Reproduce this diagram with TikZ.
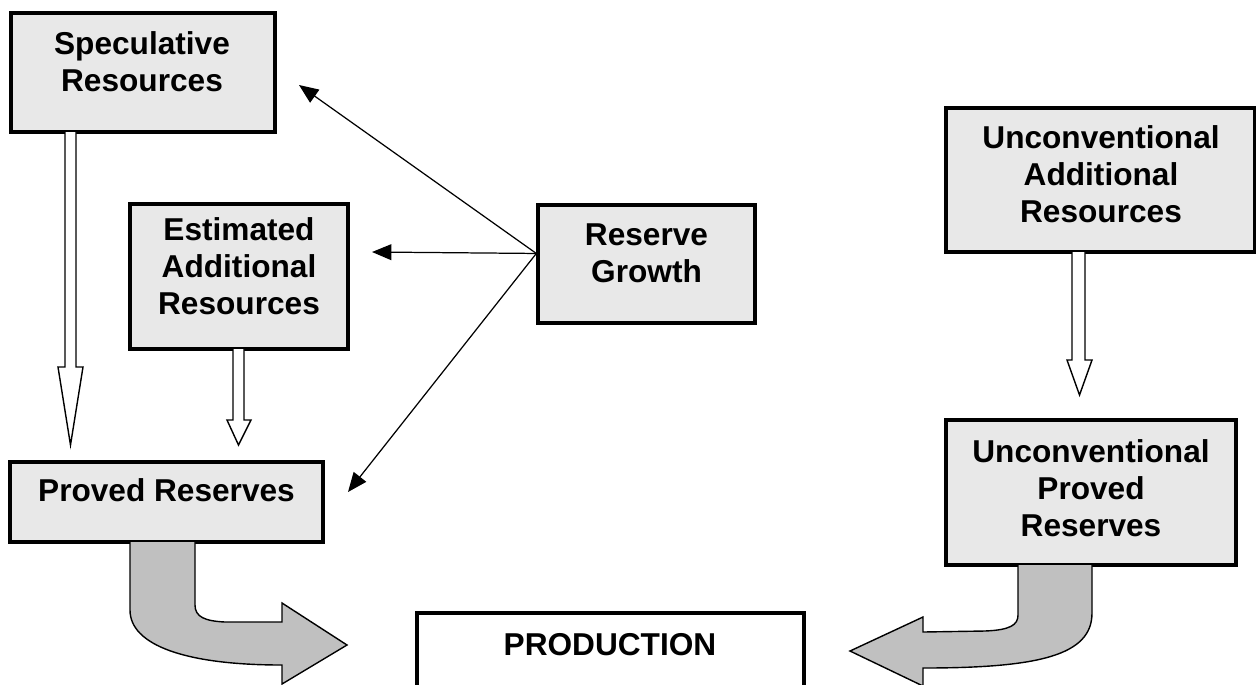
\documentclass[tikz,border=0pt]{standalone}
\usepackage{fontspec}
\setmainfont{Liberation Sans}
\usetikzlibrary{arrows.meta,fit}

\definecolor{boxgray}{HTML}{E8E8E8}
\definecolor{flowgray}{HTML}{C0C0C0}

\tikzset{
    box/.style={draw,fill=boxgray,line width=1.9pt,inner sep=0pt},
    lbl/.style={align=center,inner sep=0pt,font=\bfseries\fontsize{18}{21}\selectfont},
    hollow/.style={draw,fill=white,line width=0.8pt,line join=miter},
    flow/.style={draw,fill=flowgray,line width=0.8pt},
    thinarrow/.style={line width=0.7pt,-{Triangle[length=11pt,width=9pt]}}
}

\begin{document}
\begin{tikzpicture}[x=0.02cm,y=-0.02cm]
            \useasboundingbox (0,0) rectangle (1256,684);
            \clip (0,0) rectangle (1256,684);

            % boxes
            \node[box,fit={(11,13) (275,132)}] (spec) {};
            \node[box,fit={(130,204) (348,349)}] (est) {};
            \node[box,fit={(538,205) (755,323)}] (rg) {};
            \node[box,fit={(10,462) (323,542)}] (proved) {};
            \node[box,fit={(946,108) (1255,252)}] (uadd) {};
            \node[box,fit={(946,420) (1236,565)}] (uproved) {};
            \node[box,fill=white,fit={(417,613) (804,720)}] (prod) {};

            \node[lbl] (specTxt) at (142,61.5) {Speculative\\Resources};
            \node[lbl] (estTxt) at (239,266.5) {Estimated\\Additional\\Resources};
            \node[lbl] (rgTxt) at (646.5,253.5) {Reserve\\Growth};
            \node[lbl] (provedTxt) at (166.5,490) {Proved Reserves};
            \node[lbl] (uaddTxt) at (1101,174) {Unconventional\\Additional\\Resources};
            \node[lbl] (uprovedTxt) at (1091,488) {Unconventional\\Proved\\Reserves};
            \node[lbl] (prodTxt) at (610,645) {PRODUCTION};

            % hollow arrows
            \draw[hollow] (65,132) -- (65,367) -- (58,367) -- (70.5,445) -- (83,367) -- (76,367) -- (76,132);
            \draw[hollow] (233,349) -- (233,420) -- (227,420) -- (238.5,445) -- (251,420) -- (244,420) -- (244,349);
            \draw[hollow] (1072,252) -- (1072,360) -- (1067,360) -- (1079.5,395) -- (1092,360) -- (1085,360) -- (1085,252);

            % reserve growth arrows
            \coordinate (specIn) at (299,85);
            \coordinate (estIn) at (372,252);
            \coordinate (provedIn) at (348,492);
            \draw[thinarrow] ([yshift=6pt]rg.west) -- (specIn);
            \draw[thinarrow] ([yshift=6pt]rg.west) -- (estIn);
            \draw[thinarrow] ([yshift=6pt]rg.west) -- (provedIn);

            % to production
            \draw[flow] (130,542) -- (130,610) .. controls (130,645) and (185,665) .. (282,665)
                -- (282,684) -- (347,645) -- (282,603) -- (282,622) -- (225,622)
                .. controls (205,621) and (195,617) .. (195,605) -- (195,542);
            \draw[flow] (1092,565) -- (1092,613) .. controls (1092,655) and (1040,668) .. (923,668)
                -- (923,686) -- (850,651) -- (923,617) -- (923,632) -- (985,631)
                .. controls (1010,630) and (1018,625) .. (1018,615) -- (1018,565);
\end{tikzpicture}
\end{document}
